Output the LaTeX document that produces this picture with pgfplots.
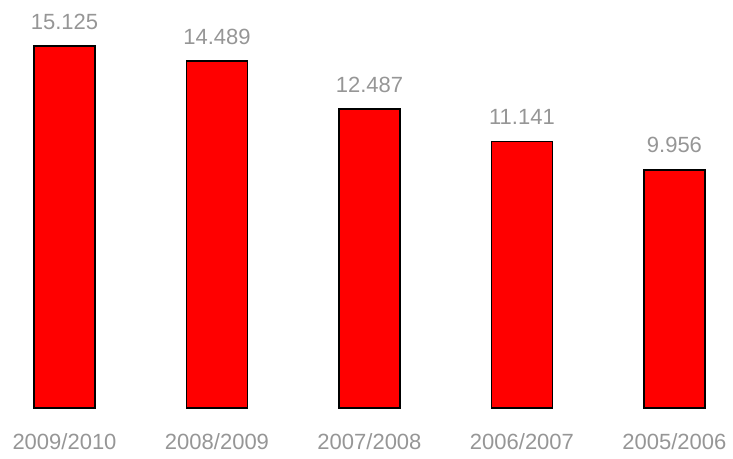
\documentclass[border=0pt]{standalone}
\usepackage{fontspec}
\setmainfont{Liberation Sans}
\usepackage{pgfplots}
\pgfplotsset{compat=1.18}
\definecolor{lblgray}{RGB}{150,150,150}
\definecolor{barred}{RGB}{255,0,0}
\begin{document}
\begin{tikzpicture}
\useasboundingbox (0,0) rectangle (733bp,459bp);
\begin{axis}[
  at={(0,51bp)}, anchor=south west,
  scale only axis, width=733bp, height=408bp,
  xmin=-0.423, xmax=4.384, ymin=0, ymax=17.05,
  axis line style={draw=none},
  tick style={draw=none},
  ytick=\empty,
  xtick={0,1,2,3,4},
  xticklabels={2009/2010,2008/2009,2007/2008,2006/2007,2005/2006},
  xticklabel style={anchor=base, yshift=-37bp, inner sep=0pt, text=lblgray, font=\fontsize{22bp}{26bp}\selectfont},
  typeset ticklabels with strut=false,
  ybar, bar width=61bp,
  point meta=explicit symbolic,
  nodes near coords,
  every node near coord/.append style={anchor=base, yshift=17bp, inner sep=0pt, text=lblgray, font=\fontsize{22bp}{26bp}\selectfont},
  clip=false,
]
\addplot[fill=barred, draw=black, line width=1.6bp] coordinates {
  (0,15.125) [15.125]
  (1,14.489) [14.489]
  (2,12.487) [12.487]
  (3,11.141) [11.141]
  (4,9.956) [9.956]
};
\end{axis}
\end{tikzpicture}
\end{document}
